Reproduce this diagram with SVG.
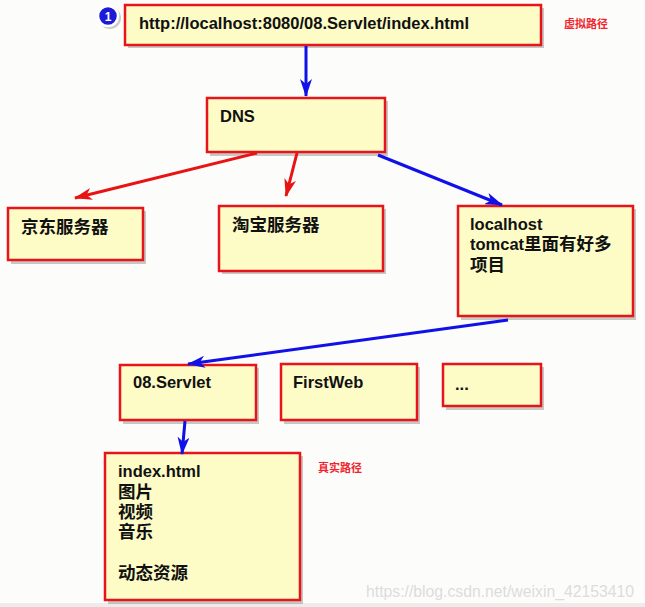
<svg xmlns="http://www.w3.org/2000/svg" width="645" height="607" viewBox="0 0 645 607">
<style>
.box{fill:#fdfcc6;stroke:#e8141c;stroke-width:2.5}
.sh{fill:#8a8a80;opacity:0.45}
.t{font-family:"Liberation Sans",Arial,"Noto Sans CJK SC",sans-serif;font-weight:bold;font-size:16.5px;fill:#111}
.c{font-size:17.5px}
.red{font-family:"Liberation Sans","Noto Sans CJK SC",sans-serif;font-weight:bold;font-size:11px;fill:#f0242c}
.b{stroke:#1010e8;stroke-width:3;fill:none}
.r{stroke:#e81414;stroke-width:3;fill:none}
</style>
<defs>
<marker id="ab" viewBox="0 0 18 12" refX="17" refY="6" markerWidth="18" markerHeight="12" markerUnits="userSpaceOnUse" orient="auto">
<path d="M0,0 L18,6 L0,12 L5,6 z" fill="#1010e8"/>
</marker>
<marker id="ar" viewBox="0 0 18 12" refX="17" refY="6" markerWidth="18" markerHeight="12" markerUnits="userSpaceOnUse" orient="auto">
<path d="M0,0 L18,6 L0,12 L5,6 z" fill="#e81414"/>
</marker>
</defs>
<rect width="645" height="607" fill="#fcfcfa"/>
<rect x="0" y="603" width="645" height="4" fill="#ececea"/>

<g id="url">
<rect class="sh" x="128" y="8" width="416" height="40"/>
<rect class="box" x="125" y="5" width="416" height="40"/>
<text class="t" x="139" y="29">http://localhost:8080/08.Servlet/index.html</text>
</g>
<g id="badge">
<circle cx="110" cy="18" r="11" fill="#999" opacity="0.5"/>
<circle cx="108" cy="16" r="10" fill="#1a1ad8" stroke="#ffffff" stroke-width="2.5"/>
<text x="108" y="20.5" text-anchor="middle" font-family="Liberation Sans,sans-serif" font-weight="bold" font-size="12" fill="#fff">1</text>
</g>
<text class="red" x="564" y="28">虚拟路径</text>

<g id="dns">
<rect class="sh" x="210" y="101" width="178" height="55"/>
<rect class="box" x="207" y="98" width="178" height="54"/>
<text class="t" x="220" y="122">DNS</text>
</g>
<g id="jd">
<rect class="sh" x="11" y="211" width="135" height="53"/>
<rect class="box" x="8" y="208" width="135" height="52"/>
<text class="t c" x="21" y="233">京东服务器</text>
</g>
<g id="taobao">
<rect class="sh" x="222" y="209" width="164" height="65"/>
<rect class="box" x="219" y="206" width="164" height="65"/>
<text class="t c" x="232" y="231">淘宝服务器</text>
</g>
<g id="localhost">
<rect class="sh" x="461" y="209" width="175" height="111"/>
<rect class="box" x="458" y="206" width="175" height="110"/>
<text class="t" x="470" y="230">localhost</text>
<text class="t" x="470" y="250">tomcat<tspan class="c">里面有好多</tspan></text>
<text class="t c" x="470" y="271">项目</text>
</g>
<g id="servlet">
<rect class="sh" x="123" y="368" width="136" height="56"/>
<rect class="box" x="120" y="365" width="136" height="55"/>
<text class="t" x="133" y="388">08.Servlet</text>
</g>
<g id="firstweb">
<rect class="sh" x="284" y="367" width="136" height="57"/>
<rect class="box" x="281" y="364" width="136" height="56"/>
<text class="t" x="293" y="388">FirstWeb</text>
</g>
<g id="more">
<rect class="sh" x="446" y="367" width="98" height="43"/>
<rect class="box" x="443" y="364" width="98" height="42"/>
<text class="t" x="455" y="390">...</text>
</g>
<g id="index">
<rect class="sh" x="108" y="456" width="195" height="148"/>
<rect class="box" x="105" y="453" width="195" height="147"/>
<text class="t" x="118" y="477">index.html</text>
<text class="t c" x="118" y="498">图片</text>
<text class="t c" x="118" y="518">视频</text>
<text class="t c" x="118" y="538">音乐</text>
<text class="t c" x="118" y="579">动态资源</text>
</g>
<text class="red" x="318" y="472">真实路径</text>

<g id="connectors">
<line class="b" x1="306" y1="46" x2="306" y2="96" marker-end="url(#ab)"/>
<line class="r" x1="257" y1="153" x2="75" y2="198" marker-end="url(#ar)"/>
<line class="r" x1="297" y1="153" x2="286" y2="196" marker-end="url(#ar)"/>
<line class="b" x1="378" y1="155" x2="502" y2="205" marker-end="url(#ab)"/>
<line class="b" x1="508" y1="320" x2="188" y2="364" marker-end="url(#ab)"/>
<line class="b" x1="185" y1="421" x2="182" y2="454" marker-end="url(#ab)"/>
</g>

<text x="366" y="597" font-family="Liberation Sans,sans-serif" font-size="16" textLength="268" lengthAdjust="spacingAndGlyphs" fill="#dcdcdc">https://blog.csdn.net/weixin_42153410</text>
</svg>
